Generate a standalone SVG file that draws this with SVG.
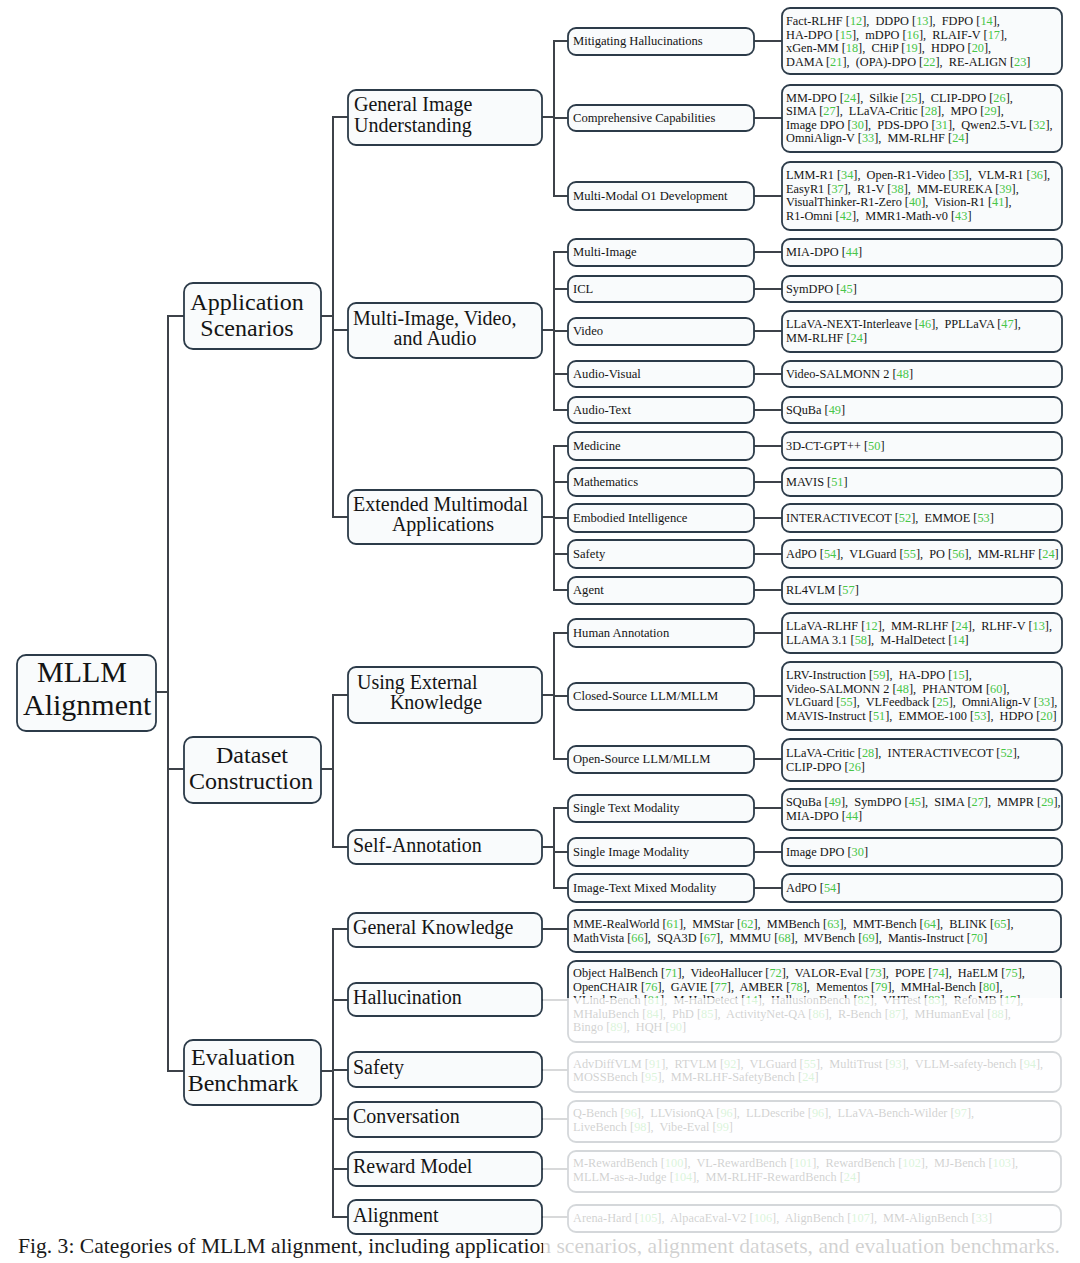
<svg xmlns="http://www.w3.org/2000/svg" width="1080" height="1263" viewBox="0 0 1080 1263">
<style>
.bg{fill:#ffffff}
.b{fill:#f9fbfc;stroke:#2c3b49;stroke-width:1.8}
.c{stroke:#3d4249;stroke-width:2;fill:none;stroke-linecap:square}
text{font-family:"Liberation Serif","Times New Roman",serif;fill:#141414}
.t1{font-size:30px}
.t2{font-size:24px}
.t3{font-size:20px}
.t4{font-size:12.3px}
g[id^="l3-"] text{font-size:12.6px}
.g{fill:#48c648}
.cap{font-size:21px;fill:#1a1a1a}
</style>
<rect class="bg" x="0" y="0" width="1080" height="1263"/>

<g id="connectors">
<path class="c" d="M157 692H168M168 316V1071M168 316H184M168 769H184M168 1071H184"/>
<path class="c" d="M321 316H333M333 117V517M333 117H348M333 330H348M333 517H348"/>
<path class="c" d="M321 769H333M333 695V847M333 695H348M333 847H348"/>
<path class="c" d="M321 1071H333M333 929V1217M333 929H348M333 1000H348M333 1070H348M333 1119H348M333 1169H348M333 1217H348"/>
<path class="c" d="M542 117H554M554 41V196M554 41H568M554 118H568M554 196H568"/>
<path class="c" d="M542 330H554M554 252V410M554 252H568M554 289H568M554 331H568M554 374H568M554 410H568"/>
<path class="c" d="M542 517H554M554 446V590M554 446H568M554 482H568M554 518H568M554 554H568M554 590H568"/>
<path class="c" d="M542 695H554M554 633V759M554 633H568M554 696H568M554 759H568"/>
<path class="c" d="M542 847H554M554 808V888M554 808H568M554 852H568M554 888H568"/>
<path class="c" d="M754 41H782M754 118H782M754 196H782M754 252H782M754 289H782M754 331H782M754 374H782M754 410H782M754 446H782M754 482H782M754 518H782M754 554H782M754 590H782M754 633H782M754 696H782M754 759H782M754 808H782M754 852H782M754 888H782"/>
<path class="c" d="M542 929H568M542 1000H568M542 1070H568M542 1119H568M542 1169H568M542 1217H568"/>
</g>

<g id="root">
<rect class="b" x="17" y="655" width="139" height="76" rx="9"/>
<text class="t1" x="37" y="682">MLLM</text>
<text class="t1" x="23" y="715">Alignment</text>
</g>

<g id="application-scenarios">
<rect class="b" x="184" y="283" width="137" height="66" rx="9"/>
<text class="t2" x="247" y="310" text-anchor="middle">Application</text>
<text class="t2" x="247" y="336" text-anchor="middle">Scenarios</text>
</g>
<g id="dataset-construction">
<rect class="b" x="184" y="737" width="137" height="66" rx="9"/>
<text class="t2" x="252" y="763" text-anchor="middle">Dataset</text>
<text class="t2" x="251" y="789" text-anchor="middle">Construction</text>
</g>
<g id="evaluation-benchmark">
<rect class="b" x="184" y="1040" width="137" height="65" rx="9"/>
<text class="t2" x="243" y="1065" text-anchor="middle">Evaluation</text>
<text class="t2" x="243" y="1091" text-anchor="middle">Benchmark</text>
</g>

<g id="general-image-understanding">
<rect class="b" x="348" y="90" width="194" height="55" rx="8"/>
<text class="t3" x="354" y="111">General Image</text>
<text class="t3" x="354" y="132">Understanding</text>
</g>
<g id="multi-image-video-audio">
<rect class="b" x="348" y="303" width="194" height="55" rx="8"/>
<text class="t3" x="353" y="325">Multi-Image, Video,</text>
<text class="t3" x="435" y="345" text-anchor="middle">and Audio</text>
</g>
<g id="extended-multimodal">
<rect class="b" x="348" y="490" width="194" height="54" rx="8"/>
<text class="t3" x="353" y="511">Extended Multimodal</text>
<text class="t3" x="443" y="531" text-anchor="middle">Applications</text>
</g>
<g id="using-external-knowledge">
<rect class="b" x="348" y="667" width="194" height="56" rx="8"/>
<text class="t3" x="357" y="689">Using External</text>
<text class="t3" x="436" y="709" text-anchor="middle">Knowledge</text>
</g>
<g id="self-annotation">
<rect class="b" x="348" y="830" width="194" height="34" rx="8"/>
<text class="t3" x="353" y="852">Self-Annotation</text>
</g>
<g id="general-knowledge">
<rect class="b" x="348" y="913" width="194" height="34" rx="8"/>
<text class="t3" x="353" y="934">General Knowledge</text>
</g>
<g id="hallucination">
<rect class="b" x="348" y="983" width="194" height="33" rx="8"/>
<text class="t3" x="353" y="1004">Hallucination</text>
</g>
<g id="safety-bench">
<rect class="b" x="348" y="1052" width="194" height="35" rx="8"/>
<text class="t3" x="353" y="1074">Safety</text>
</g>
<g id="conversation">
<rect class="b" x="348" y="1102" width="194" height="35" rx="8"/>
<text class="t3" x="353" y="1123">Conversation</text>
</g>
<g id="reward-model">
<rect class="b" x="348" y="1152" width="194" height="34" rx="8"/>
<text class="t3" x="353" y="1173">Reward Model</text>
</g>
<g id="alignment-bench">
<rect class="b" x="348" y="1200" width="194" height="34" rx="8"/>
<text class="t3" x="353" y="1222">Alignment</text>
</g>

<g id="l3-mitigating"><rect class="b" x="568" y="28" width="186" height="27" rx="8"/><text class="t4" x="573" y="45">Mitigating Hallucinations</text></g>
<g id="l3-comprehensive"><rect class="b" x="568" y="105" width="186" height="26" rx="8"/><text class="t4" x="573" y="122">Comprehensive Capabilities</text></g>
<g id="l3-o1"><rect class="b" x="568" y="182" width="186" height="28" rx="8"/><text class="t4" x="573" y="200">Multi-Modal O1 Development</text></g>
<g id="l3-multi-image"><rect class="b" x="568" y="239" width="186" height="27" rx="8"/><text class="t4" x="573" y="256">Multi-Image</text></g>
<g id="l3-icl"><rect class="b" x="568" y="276" width="186" height="26" rx="8"/><text class="t4" x="573" y="293">ICL</text></g>
<g id="l3-video"><rect class="b" x="568" y="318" width="186" height="27" rx="8"/><text class="t4" x="573" y="335">Video</text></g>
<g id="l3-audio-visual"><rect class="b" x="568" y="361" width="186" height="26" rx="8"/><text class="t4" x="573" y="378">Audio-Visual</text></g>
<g id="l3-audio-text"><rect class="b" x="568" y="397" width="186" height="26" rx="8"/><text class="t4" x="573" y="414">Audio-Text</text></g>
<g id="l3-medicine"><rect class="b" x="568" y="432" width="186" height="28" rx="8"/><text class="t4" x="573" y="450">Medicine</text></g>
<g id="l3-mathematics"><rect class="b" x="568" y="468" width="186" height="28" rx="8"/><text class="t4" x="573" y="486">Mathematics</text></g>
<g id="l3-embodied"><rect class="b" x="568" y="504" width="186" height="28" rx="8"/><text class="t4" x="573" y="522">Embodied Intelligence</text></g>
<g id="l3-safety"><rect class="b" x="568" y="540" width="186" height="28" rx="8"/><text class="t4" x="573" y="558">Safety</text></g>
<g id="l3-agent"><rect class="b" x="568" y="577" width="186" height="27" rx="8"/><text class="t4" x="573" y="594">Agent</text></g>
<g id="l3-human"><rect class="b" x="568" y="619" width="186" height="28" rx="8"/><text class="t4" x="573" y="637">Human Annotation</text></g>
<g id="l3-closed"><rect class="b" x="568" y="683" width="186" height="27" rx="8"/><text class="t4" x="573" y="700">Closed-Source LLM/MLLM</text></g>
<g id="l3-open"><rect class="b" x="568" y="746" width="186" height="27" rx="8"/><text class="t4" x="573" y="763">Open-Source LLM/MLLM</text></g>
<g id="l3-single-text"><rect class="b" x="568" y="795" width="186" height="27" rx="8"/><text class="t4" x="573" y="812">Single Text Modality</text></g>
<g id="l3-single-image"><rect class="b" x="568" y="838" width="186" height="28" rx="8"/><text class="t4" x="573" y="856">Single Image Modality</text></g>
<g id="l3-mixed"><rect class="b" x="568" y="874" width="186" height="28" rx="8"/><text class="t4" x="573" y="892">Image-Text Mixed Modality</text></g>

<g id="leaf-mitigating"><rect class="b" x="782" y="8" width="280" height="66" rx="8"/>
<text class="t4" x="786" y="25" xml:space="preserve">Fact-RLHF [<tspan class="g">12</tspan>],  DDPO [<tspan class="g">13</tspan>],  FDPO [<tspan class="g">14</tspan>],</text>
<text class="t4" x="786" y="38.5" xml:space="preserve">HA-DPO [<tspan class="g">15</tspan>],  mDPO [<tspan class="g">16</tspan>],  RLAIF-V [<tspan class="g">17</tspan>],</text>
<text class="t4" x="786" y="52" xml:space="preserve">xGen-MM [<tspan class="g">18</tspan>],  CHiP [<tspan class="g">19</tspan>],  HDPO [<tspan class="g">20</tspan>],</text>
<text class="t4" x="786" y="65.5" xml:space="preserve">DAMA [<tspan class="g">21</tspan>],  (OPA)-DPO [<tspan class="g">22</tspan>],  RE-ALIGN [<tspan class="g">23</tspan>]</text>
</g>
<g id="leaf-comprehensive"><rect class="b" x="782" y="85" width="280" height="67" rx="8"/>
<text class="t4" x="786" y="101.5" xml:space="preserve">MM-DPO [<tspan class="g">24</tspan>],  Silkie [<tspan class="g">25</tspan>],  CLIP-DPO [<tspan class="g">26</tspan>],</text>
<text class="t4" x="786" y="115" xml:space="preserve">SIMA [<tspan class="g">27</tspan>],  LLaVA-Critic [<tspan class="g">28</tspan>],  MPO [<tspan class="g">29</tspan>],</text>
<text class="t4" x="786" y="128.5" xml:space="preserve">Image DPO [<tspan class="g">30</tspan>],  PDS-DPO [<tspan class="g">31</tspan>],  Qwen2.5-VL [<tspan class="g">32</tspan>],</text>
<text class="t4" x="786" y="142" xml:space="preserve">OmniAlign-V [<tspan class="g">33</tspan>],  MM-RLHF [<tspan class="g">24</tspan>]</text>
</g>
<g id="leaf-o1"><rect class="b" x="782" y="162" width="280" height="68" rx="8"/>
<text class="t4" x="786" y="179" xml:space="preserve">LMM-R1 [<tspan class="g">34</tspan>],  Open-R1-Video [<tspan class="g">35</tspan>],  VLM-R1 [<tspan class="g">36</tspan>],</text>
<text class="t4" x="786" y="192.5" xml:space="preserve">EasyR1 [<tspan class="g">37</tspan>],  R1-V [<tspan class="g">38</tspan>],  MM-EUREKA [<tspan class="g">39</tspan>],</text>
<text class="t4" x="786" y="206" xml:space="preserve">VisualThinker-R1-Zero [<tspan class="g">40</tspan>],  Vision-R1 [<tspan class="g">41</tspan>],</text>
<text class="t4" x="786" y="219.5" xml:space="preserve">R1-Omni [<tspan class="g">42</tspan>],  MMR1-Math-v0 [<tspan class="g">43</tspan>]</text>
</g>
<g id="leaf-multi-image"><rect class="b" x="782" y="239" width="280" height="27" rx="8"/><text class="t4" x="786" y="256">MIA-DPO [<tspan class="g">44</tspan>]</text></g>
<g id="leaf-icl"><rect class="b" x="782" y="276" width="280" height="26" rx="8"/><text class="t4" x="786" y="293">SymDPO [<tspan class="g">45</tspan>]</text></g>
<g id="leaf-video"><rect class="b" x="782" y="311" width="280" height="41" rx="8"/>
<text class="t4" x="786" y="328" xml:space="preserve">LLaVA-NEXT-Interleave [<tspan class="g">46</tspan>],  PPLLaVA [<tspan class="g">47</tspan>],</text>
<text class="t4" x="786" y="341.5">MM-RLHF [<tspan class="g">24</tspan>]</text>
</g>
<g id="leaf-audio-visual"><rect class="b" x="782" y="361" width="280" height="26" rx="8"/><text class="t4" x="786" y="378">Video-SALMONN 2 [<tspan class="g">48</tspan>]</text></g>
<g id="leaf-audio-text"><rect class="b" x="782" y="397" width="280" height="26" rx="8"/><text class="t4" x="786" y="414">SQuBa [<tspan class="g">49</tspan>]</text></g>
<g id="leaf-medicine"><rect class="b" x="782" y="432" width="280" height="28" rx="8"/><text class="t4" x="786" y="450">3D-CT-GPT++ [<tspan class="g">50</tspan>]</text></g>
<g id="leaf-mathematics"><rect class="b" x="782" y="468" width="280" height="28" rx="8"/><text class="t4" x="786" y="486">MAVIS [<tspan class="g">51</tspan>]</text></g>
<g id="leaf-embodied"><rect class="b" x="782" y="504" width="280" height="28" rx="8"/><text class="t4" x="786" y="522" xml:space="preserve">INTERACTIVECOT [<tspan class="g">52</tspan>],  EMMOE [<tspan class="g">53</tspan>]</text></g>
<g id="leaf-safety"><rect class="b" x="782" y="540" width="280" height="28" rx="8"/><text class="t4" x="786" y="558" xml:space="preserve">AdPO [<tspan class="g">54</tspan>],  VLGuard [<tspan class="g">55</tspan>],  PO [<tspan class="g">56</tspan>],  MM-RLHF [<tspan class="g">24</tspan>]</text></g>
<g id="leaf-agent"><rect class="b" x="782" y="577" width="280" height="27" rx="8"/><text class="t4" x="786" y="594">RL4VLM [<tspan class="g">57</tspan>]</text></g>
<g id="leaf-human"><rect class="b" x="782" y="613" width="280" height="40" rx="8"/>
<text class="t4" x="786" y="630" xml:space="preserve">LLaVA-RLHF [<tspan class="g">12</tspan>],  MM-RLHF [<tspan class="g">24</tspan>],  RLHF-V [<tspan class="g">13</tspan>],</text>
<text class="t4" x="786" y="643.5" xml:space="preserve">LLAMA 3.1 [<tspan class="g">58</tspan>],  M-HalDetect [<tspan class="g">14</tspan>]</text>
</g>
<g id="leaf-closed"><rect class="b" x="782" y="662" width="280" height="68" rx="8"/>
<text class="t4" x="786" y="679" xml:space="preserve">LRV-Instruction [<tspan class="g">59</tspan>],  HA-DPO [<tspan class="g">15</tspan>],</text>
<text class="t4" x="786" y="692.5" xml:space="preserve">Video-SALMONN 2 [<tspan class="g">48</tspan>],  PHANTOM [<tspan class="g">60</tspan>],</text>
<text class="t4" x="786" y="706" xml:space="preserve">VLGuard [<tspan class="g">55</tspan>],  VLFeedback [<tspan class="g">25</tspan>],  OmniAlign-V [<tspan class="g">33</tspan>],</text>
<text class="t4" x="786" y="719.5" xml:space="preserve">MAVIS-Instruct [<tspan class="g">51</tspan>],  EMMOE-100 [<tspan class="g">53</tspan>],  HDPO [<tspan class="g">20</tspan>]</text>
</g>
<g id="leaf-open"><rect class="b" x="782" y="739" width="280" height="42" rx="8"/>
<text class="t4" x="786" y="757" xml:space="preserve">LLaVA-Critic [<tspan class="g">28</tspan>],  INTERACTIVECOT [<tspan class="g">52</tspan>],</text>
<text class="t4" x="786" y="770.5">CLIP-DPO [<tspan class="g">26</tspan>]</text>
</g>
<g id="leaf-single-text"><rect class="b" x="782" y="789" width="280" height="41" rx="8"/>
<text class="t4" x="786" y="806" xml:space="preserve">SQuBa [<tspan class="g">49</tspan>],  SymDPO [<tspan class="g">45</tspan>],  SIMA [<tspan class="g">27</tspan>],  MMPR [<tspan class="g">29</tspan>],</text>
<text class="t4" x="786" y="819.5">MIA-DPO [<tspan class="g">44</tspan>]</text>
</g>
<g id="leaf-single-image"><rect class="b" x="782" y="838" width="280" height="28" rx="8"/><text class="t4" x="786" y="856">Image DPO [<tspan class="g">30</tspan>]</text></g>
<g id="leaf-mixed"><rect class="b" x="782" y="874" width="280" height="28" rx="8"/><text class="t4" x="786" y="892">AdPO [<tspan class="g">54</tspan>]</text></g>

<g id="leaf-general-knowledge"><rect class="b" x="568" y="910" width="493" height="42" rx="8"/>
<text class="t4" x="573" y="928" xml:space="preserve">MME-RealWorld [<tspan class="g">61</tspan>],  MMStar [<tspan class="g">62</tspan>],  MMBench [<tspan class="g">63</tspan>],  MMT-Bench [<tspan class="g">64</tspan>],  BLINK [<tspan class="g">65</tspan>],</text>
<text class="t4" x="573" y="941.5" xml:space="preserve">MathVista [<tspan class="g">66</tspan>],  SQA3D [<tspan class="g">67</tspan>],  MMMU [<tspan class="g">68</tspan>],  MVBench [<tspan class="g">69</tspan>],  Mantis-Instruct [<tspan class="g">70</tspan>]</text>
</g>
<g id="leaf-hallucination"><rect class="b" x="568" y="961" width="493" height="81" rx="8"/>
<text class="t4" x="573" y="977" xml:space="preserve">Object HalBench [<tspan class="g">71</tspan>],  VideoHallucer [<tspan class="g">72</tspan>],  VALOR-Eval [<tspan class="g">73</tspan>],  POPE [<tspan class="g">74</tspan>],  HaELM [<tspan class="g">75</tspan>],</text>
<text class="t4" x="573" y="990.5" xml:space="preserve">OpenCHAIR [<tspan class="g">76</tspan>],  GAVIE [<tspan class="g">77</tspan>],  AMBER [<tspan class="g">78</tspan>],  Mementos [<tspan class="g">79</tspan>],  MMHal-Bench [<tspan class="g">80</tspan>],</text>
<text class="t4" x="573" y="1004" xml:space="preserve">VLind-Bench [<tspan class="g">81</tspan>],  M-HalDetect [<tspan class="g">14</tspan>],  HallusionBench [<tspan class="g">82</tspan>],  VHTest [<tspan class="g">83</tspan>],  RefoMB [<tspan class="g">17</tspan>],</text>
<text class="t4" x="573" y="1017.5" xml:space="preserve">MHaluBench [<tspan class="g">84</tspan>],  PhD [<tspan class="g">85</tspan>],  ActivityNet-QA [<tspan class="g">86</tspan>],  R-Bench [<tspan class="g">87</tspan>],  MHumanEval [<tspan class="g">88</tspan>],</text>
<text class="t4" x="573" y="1031" xml:space="preserve">Bingo [<tspan class="g">89</tspan>],  HQH [<tspan class="g">90</tspan>]</text>
</g>
<g id="leaf-safety-bench"><rect class="b" x="568" y="1052" width="493" height="40" rx="8"/>
<text class="t4" x="573" y="1067.5" xml:space="preserve">AdvDiffVLM [<tspan class="g">91</tspan>],  RTVLM [<tspan class="g">92</tspan>],  VLGuard [<tspan class="g">55</tspan>],  MultiTrust [<tspan class="g">93</tspan>],  VLLM-safety-bench [<tspan class="g">94</tspan>],</text>
<text class="t4" x="573" y="1081" xml:space="preserve">MOSSBench [<tspan class="g">95</tspan>],  MM-RLHF-SafetyBench [<tspan class="g">24</tspan>]</text>
</g>
<g id="leaf-conversation"><rect class="b" x="568" y="1101" width="493" height="41" rx="8"/>
<text class="t4" x="573" y="1116.5" xml:space="preserve">Q-Bench [<tspan class="g">96</tspan>],  LLVisionQA [<tspan class="g">96</tspan>],  LLDescribe [<tspan class="g">96</tspan>],  LLaVA-Bench-Wilder [<tspan class="g">97</tspan>],</text>
<text class="t4" x="573" y="1130.5" xml:space="preserve">LiveBench [<tspan class="g">98</tspan>],  Vibe-Eval [<tspan class="g">99</tspan>]</text>
</g>
<g id="leaf-reward"><rect class="b" x="568" y="1151" width="493" height="41" rx="8"/>
<text class="t4" x="573" y="1167" xml:space="preserve">M-RewardBench [<tspan class="g">100</tspan>],  VL-RewardBench [<tspan class="g">101</tspan>],  RewardBench [<tspan class="g">102</tspan>],  MJ-Bench [<tspan class="g">103</tspan>],</text>
<text class="t4" x="573" y="1181" xml:space="preserve">MLLM-as-a-Judge [<tspan class="g">104</tspan>],  MM-RLHF-RewardBench [<tspan class="g">24</tspan>]</text>
</g>
<g id="leaf-alignment"><rect class="b" x="568" y="1205" width="493" height="27" rx="8"/>
<text class="t4" x="573" y="1222" xml:space="preserve">Arena-Hard [<tspan class="g">105</tspan>],  AlpacaEval-V2 [<tspan class="g">106</tspan>],  AlignBench [<tspan class="g">107</tspan>],  MM-AlignBench [<tspan class="g">33</tspan>]</text>
</g>

<text class="cap" x="18" y="1253" textLength="1042" lengthAdjust="spacingAndGlyphs">Fig. 3: Categories of MLLM alignment, including application scenarios, alignment datasets, and evaluation benchmarks.</text>

<rect x="543" y="998" width="537" height="265" fill="#ffffff" fill-opacity="0.8"/>
</svg>
